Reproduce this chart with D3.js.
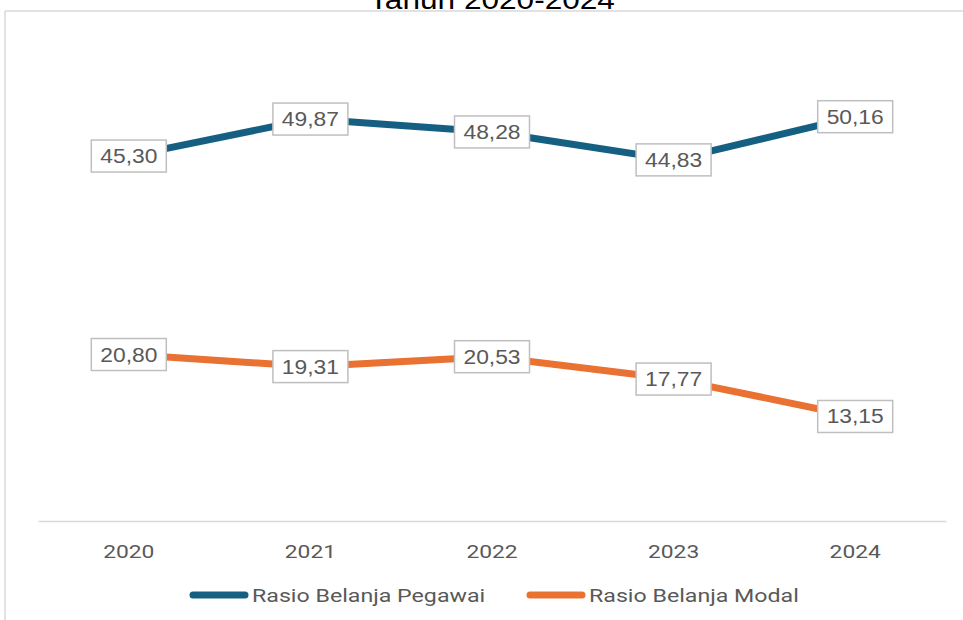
<!DOCTYPE html>
<html>
<head>
<meta charset="utf-8">
<script src="https://cdn.jsdelivr.net/npm/d3@7"></script>
<style>
  html, body { margin: 0; padding: 0; background: #fff; }
  svg { display: block; }
</style>
</head>
<body>
<svg id="chart" width="963" height="620"></svg>
<script>
const years = ["2020", "2021", "2022", "2023", "2024"];
const pegawai = [45.30, 49.87, 48.28, 44.83, 50.16];
const modal = [20.80, 19.31, 20.53, 17.77, 13.15];
const seriesNames = ["Rasio Belanja Pegawai", "Rasio Belanja Modal"];
const seriesColors = ["#156082", "#E97132"];
const titleText = "Tahun 2020-2024";

const svg = d3.select("#chart");
const fmt = v => v.toFixed(2).replace(".", ",");

// frame
svg.append("line").attr("x1", 5).attr("x2", 963).attr("y1", 11).attr("y2", 11)
  .attr("stroke", "#d9d9d9").attr("stroke-width", 1.5);
svg.append("line").attr("x1", 5).attr("x2", 5).attr("y1", 11).attr("y2", 620)
  .attr("stroke", "#d9d9d9").attr("stroke-width", 1.5);

// title (cropped at top, as in the reference)
svg.append("text").attr("transform", "translate(492,9) scale(1.17,1)").attr("text-anchor", "middle")
  .attr("font-family", "Liberation Sans, Arial, sans-serif").attr("font-size", 27)
  .attr("fill", "#000").text(titleText);

const x = d3.scaleBand().domain(years).range([38, 946]);
const y = d3.scaleLinear().domain([0, 60]).range([523, 37]);

// category axis
const ax = svg.append("g").attr("transform", "translate(0,521)")
  .call(d3.axisBottom(x).tickSize(0).tickPadding(0));
ax.select(".domain").attr("stroke", "#d9d9d9").attr("stroke-width", 1.5);
ax.selectAll(".tick text")
  .attr("y", 0).attr("dy", 0)
  .attr("transform", "translate(0,37) scale(1.2,1)")
  .attr("font-family", "Liberation Sans Narrow, Roboto, sans-serif")
  .attr("font-size", 19).attr("fill", "#595959");

const series = [pegawai, modal];
const line = d3.line().x((d, i) => x(years[i]) + x.bandwidth() / 2).y(d => y(d));

series.forEach((vals, si) => {
  svg.append("path").datum(vals).attr("d", line)
    .attr("fill", "none").attr("stroke", seriesColors[si])
    .attr("stroke-width", 7).attr("stroke-linejoin", "round").attr("stroke-linecap", "round");
});

series.forEach((vals, si) => {
  const g = svg.append("g");
  vals.forEach((v, i) => {
    const cx = x(years[i]) + x.bandwidth() / 2, cy = y(v);
    g.append("rect").attr("x", cx - 37.5).attr("y", cy - 16).attr("width", 75).attr("height", 32)
      .attr("fill", "#fff").attr("stroke", "#bfbfbf").attr("stroke-width", 1.5);
    g.append("text").attr("transform", `translate(${cx},${cy + 7}) scale(1.17,1)`)
      .attr("text-anchor", "middle")
      .attr("font-family", "Liberation Sans, Arial, sans-serif").attr("font-size", 19.5)
      .attr("fill", "#595959").text(fmt(v));
  });
});

// legend
const legendX = [190, 527];
seriesNames.forEach((name, si) => {
  const lx = legendX[si];
  svg.append("line").attr("x1", lx + 3).attr("x2", lx + 55).attr("y1", 595).attr("y2", 595)
    .attr("stroke", seriesColors[si]).attr("stroke-width", 7).attr("stroke-linecap", "round");
  svg.append("text").attr("transform", `translate(${lx + 62},602) scale(1.22,1)`)
    .attr("font-family", "Liberation Sans Narrow, Roboto, sans-serif").attr("font-size", 19)
    .attr("fill", "#595959").text(name);
});
</script>
</body>
</html>
